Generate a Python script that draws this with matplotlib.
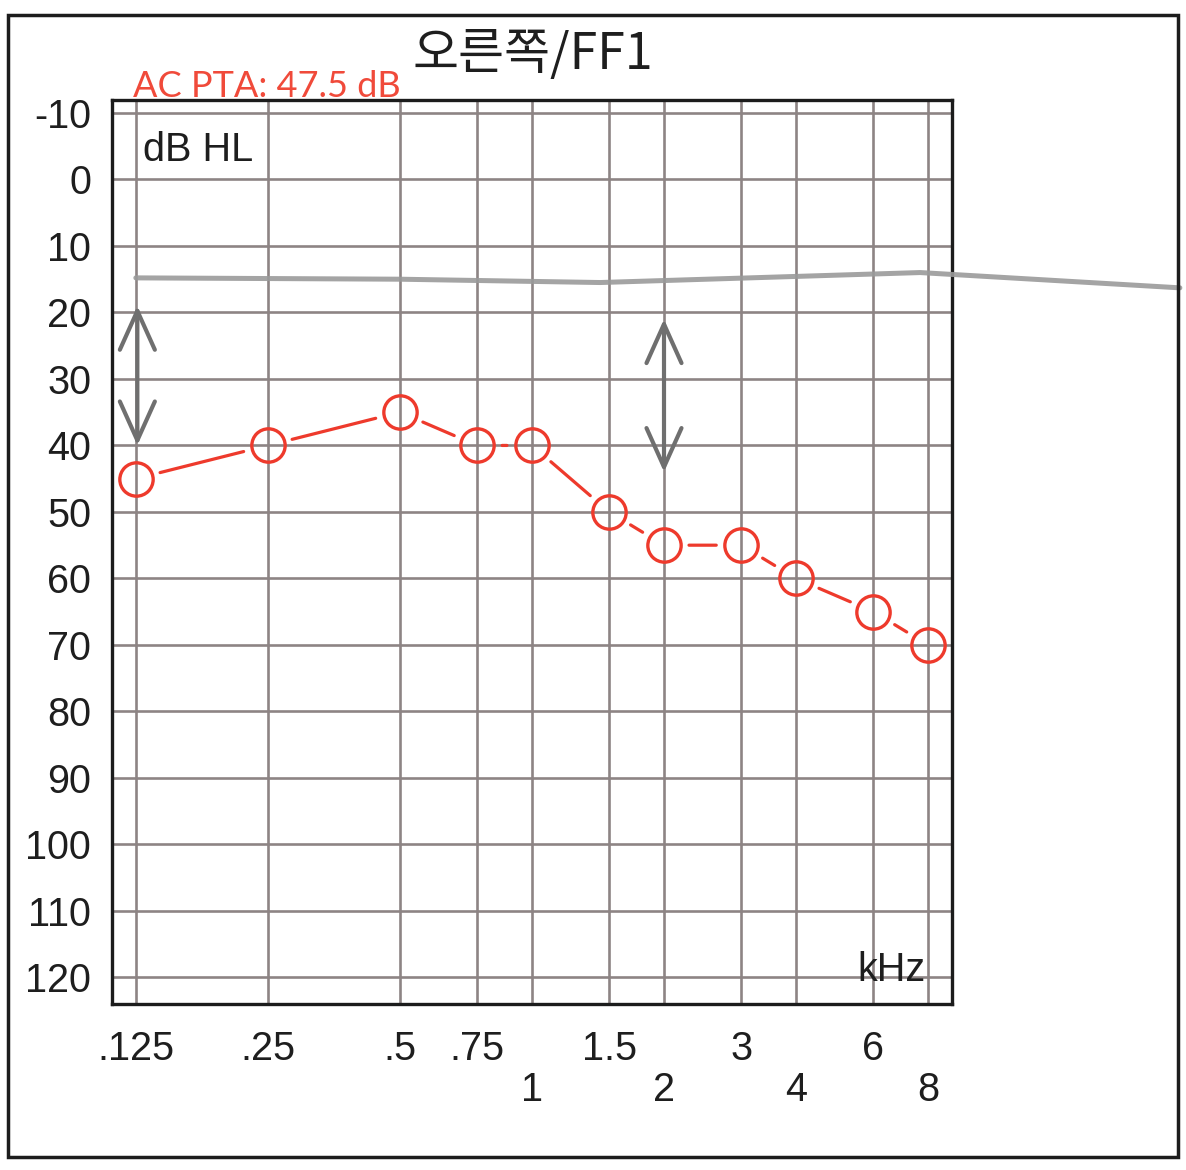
import matplotlib
matplotlib.use('Agg')
import matplotlib.pyplot as plt
from matplotlib.ticker import FixedLocator, FixedFormatter
from matplotlib.patches import Rectangle

# ---- data ----
freqs = [0.125, 0.25, 0.5, 0.75, 1, 1.5, 2, 3, 4, 6, 8]
thresholds = [45, 40, 35, 40, 40, 50, 55, 55, 60, 65, 70]
upper_freqs = [0.125, 0.25, 0.5, 0.75, 1.5, 3, 6]
upper_labels = ['.125', '.25', '.5', '.75', '1.5', '3', '6']
lower_freqs = [1, 2, 4, 8]
lower_labels = ['1', '2', '4', '8']
db_ticks = list(range(-10, 121, 10))
db_labels = [str(v) for v in db_ticks]
title = '오른쪽/FF1'
pta_label = 'AC PTA: 47.5 dB'
# hand-drawn pencil marks
pencil_freqs = [0.125, 0.5, 1.43, 7.67, 30]
pencil_levels = [14.8, 15.0, 15.5, 14.0, 16.3]
arrow_freqs = [0.126, 2.0]
arrow_tops = [19, 21]
arrow_bottoms = [40, 44]

RED = '#ee3a2c'
GRID = '#8d8484'
PENCIL = '#6f6f6f'
INK = '#1e1e1e'

W, H = 1186, 1170
fig = plt.figure(figsize=(W / 100, H / 100), dpi=100)
fig.patch.set_facecolor('white')

ax_l, ax_r, ax_t, ax_b = 112, 952, 100, 1004
ax = fig.add_axes([ax_l / W, 1 - ax_b / H, (ax_r - ax_l) / W, (ax_b - ax_t) / H])
ax.set_xscale('log')
ax.set_xlim(0.1103, 9.07)
ax.set_ylim(124.0, -11.95)

# ticks
ax.xaxis.set_major_locator(FixedLocator(upper_freqs))
ax.xaxis.set_major_formatter(FixedFormatter(upper_labels))
ax.xaxis.set_minor_locator(FixedLocator(lower_freqs))
ax.xaxis.set_minor_formatter(FixedFormatter(lower_labels))
ax.yaxis.set_major_locator(FixedLocator(db_ticks))
ax.yaxis.set_major_formatter(FixedFormatter(db_labels))

ax.tick_params(axis='x', which='major', length=0, pad=19, colors=INK)
ax.tick_params(axis='x', which='minor', length=0, pad=48, colors=INK)
ax.tick_params(axis='y', which='major', length=0, pad=15, colors=INK)
for lab in ax.get_xticklabels(which='both') + ax.get_yticklabels():
    lab.set_fontfamily(['Liberation Sans', 'DejaVu Sans'])
    lab.set_fontsize(28.5)

ax.grid(True, which='both', axis='x', color=GRID, lw=1.9)
ax.grid(True, which='major', axis='y', color=GRID, lw=1.9)
for sp in ax.spines.values():
    sp.set_linewidth(2.4)
    sp.set_color('#1c1c1c')

# pencil marks
ax.plot(pencil_freqs, pencil_levels, color='#9a9a9a', lw=3.6, alpha=0.9,
        clip_on=False, zorder=3, solid_capstyle='round')
for f, t, b in zip(arrow_freqs, arrow_tops, arrow_bottoms):
    ax.annotate('', xy=(f, b), xytext=(f, t),
                arrowprops=dict(arrowstyle='<->,head_length=1.0,head_width=0.45',
                                color=PENCIL, lw=3, mutation_scale=28,
                                shrinkA=0, shrinkB=0), zorder=3)

# audiogram line segments with gaps around markers
for i in range(len(freqs) - 1):
    ax.annotate('', xy=(freqs[i + 1], thresholds[i + 1]), xytext=(freqs[i], thresholds[i]),
                arrowprops=dict(arrowstyle='-', color=RED, lw=2.3,
                                shrinkA=18, shrinkB=18), zorder=4)
ax.plot(freqs, thresholds, linestyle='none', marker='o', ms=24, mfc='none',
        mec=RED, mew=2.4, clip_on=False, zorder=5)

# texts
ax.text((143 - ax_l) / (ax_r - ax_l), (ax_b - 150) / (ax_b - ax_t), 'dB HL',
        transform=ax.transAxes, ha='left', va='center', color=INK,
        fontfamily=['Liberation Sans', 'DejaVu Sans'], fontsize=28.5)
ax.text((926 - ax_l) / (ax_r - ax_l), (ax_b - 970) / (ax_b - ax_t), 'kHz',
        transform=ax.transAxes, ha='right', va='center', color=INK,
        fontfamily=['Liberation Sans', 'DejaVu Sans'], fontsize=28.5)

fig.text(533 / W, 1 - 55 / H, title, ha='center', va='center', color=INK,
         fontfamily=['Noto Sans CJK KR', 'DejaVu Sans'], fontsize=36, fontweight='medium')
fig.text(133 / W, 1 - 97 / H, pta_label, ha='left', va='baseline', color='#f04a3a',
         fontfamily=['Lato', 'Liberation Sans', 'DejaVu Sans'], fontsize=26)

# outer border
fig.add_artist(Rectangle((8 / W, 1 - 1157 / H), (1178 - 8) / W, (1157 - 15) / H,
                         transform=fig.transFigure, fill=False, ec='#1c1c1c', lw=2.5))

fig.savefig('out.png', dpi=100, facecolor='white')
